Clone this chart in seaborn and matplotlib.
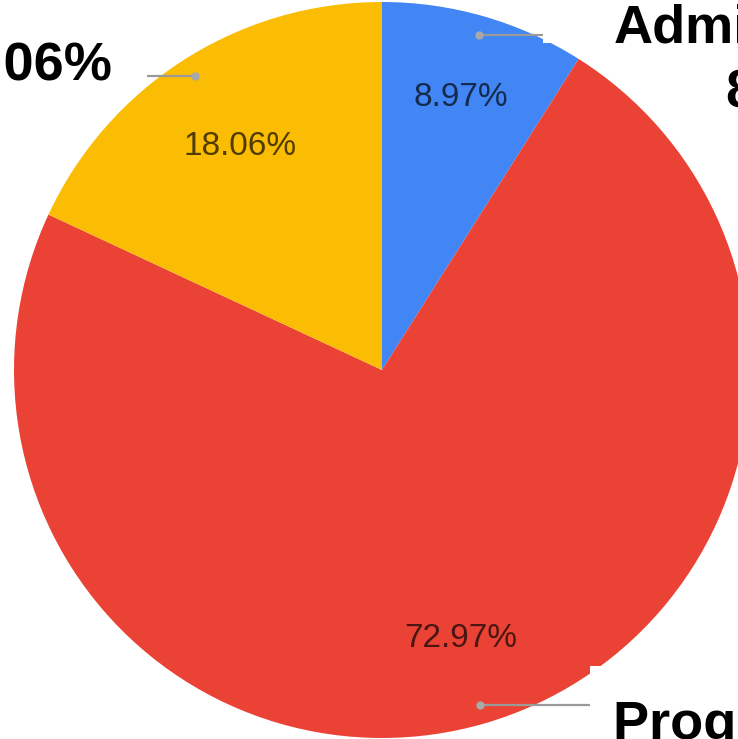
import numpy as np
import seaborn as sns
import matplotlib.pyplot as plt
from matplotlib.patches import Rectangle

# data
categories = ["Administrative", "Program Services", "Fundraising"]
shares = [8.97, 72.97, 18.06]
pct_labels = ["8.97%", "72.97%", "18.06%"]
colors = ["#4285F4", "#EA4335", "#FBBC04"]

sns.set_style("white")
plt.rcParams["font.family"] = ["Liberation Sans", "DejaVu Sans"]

# canvas geometry (pixels): pie centre and radius, the pie is cropped at the edges
W, H = 738, 739
cx, cy, R = 382, 370, 368


def to_data(x, y):
    return (x - cx) / R, (cy - y) / R


fig = plt.figure(figsize=(W / 100, H / 100), dpi=100)
ax = fig.add_axes([0, 0, 1, 1])

wedges, _ = ax.pie(shares, colors=colors, startangle=90, counterclock=False,
                   radius=1, wedgeprops=dict(linewidth=0))
ax.set_xlim(-cx / R, (W - cx) / R)
ax.set_ylim(-(H - cy) / R, cy / R)
ax.axis("off")

# percentage labels inside the slices
inner_r = [0.77, 0.76, 0.72]
for w, lab, r in zip(wedges, pct_labels, inner_r):
    mid = np.deg2rad((w.theta1 + w.theta2) / 2)
    ax.text(r * np.cos(mid), r * np.sin(mid), lab, ha="center", va="center",
            fontsize=24, color="black", alpha=0.68)

# leader lines with dots
line_end_x = [543, 590, 147]
dot_r = 0.948
for w, xe in zip(wedges, line_end_x):
    mid = np.deg2rad((w.theta1 + w.theta2) / 2)
    dx, dy = dot_r * np.cos(mid), dot_r * np.sin(mid)
    ax.plot([dx, (xe - cx) / R], [dy, dy], color="#9a9a9a", lw=1.6,
            solid_capstyle="butt", zorder=3)
    ax.plot(dx, dy, "o", color="#a8a8a8", markersize=6, mec="none", zorder=4)

# white label backgrounds
x0, y0 = to_data(543, 43)
ax.add_patch(Rectangle((x0, y0), 2, 1, facecolor="white", edgecolor="none", zorder=5))
x0, y0 = to_data(590, 739)
ax.add_patch(Rectangle((x0, y0), 2, (739 - 666) / R, facecolor="white",
                       edgecolor="none", zorder=5))

# outside labels (anchored at the baseline of their last line)
fs = 39
tx, ty = to_data(614, 107)
ax.text(tx, ty, f"{categories[0]}\n{pct_labels[0]}", ha="left", va="baseline",
        multialignment="center", fontsize=fs, fontweight="bold",
        linespacing=1.36, color="black", zorder=6)
tx, ty = to_data(613, 803)
ax.text(tx, ty, f"{categories[1]}\n{pct_labels[1]}", ha="left", va="baseline",
        multialignment="center", fontsize=fs, fontweight="bold",
        linespacing=1.36, color="black", zorder=6)
tx, ty = to_data(112, 80)
ax.text(tx, ty, f"{categories[2]} {pct_labels[2]}", ha="right", va="baseline",
        fontsize=fs, fontweight="bold", color="black", zorder=6)

fig.savefig("out.png", dpi=100, facecolor="white")
